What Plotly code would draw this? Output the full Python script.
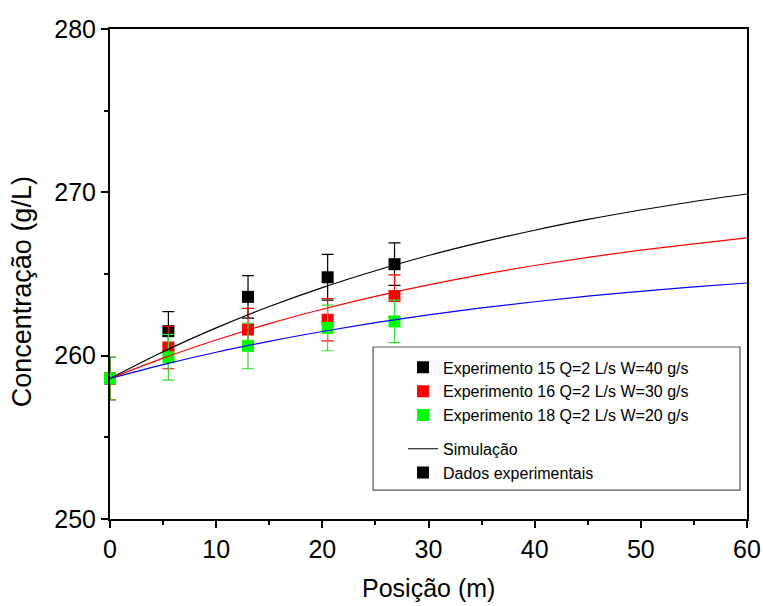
import plotly.graph_objects as go

# Dados experimentais (posição em m, concentração em g/L)
pos_exp = [0, 5.5, 13, 20.5, 26.8]

exp15 = [258.6, 261.5, 263.6, 264.8, 265.6]
exp15_err = [1.3, 1.2, 1.3, 1.4, 1.3]

exp16 = [258.6, 260.5, 261.6, 262.2, 263.65]
exp16_err = [1.3, 1.3, 1.3, 1.3, 1.3]

exp18 = [258.6, 259.9, 260.6, 261.7, 262.1]
exp18_err = [1.3, 1.4, 1.4, 1.4, 1.3]

# Curvas de simulação
pos_sim = [0, 5, 10, 15, 20, 25, 30, 35, 40, 45, 50, 55, 60]
sim15 = [258.6, 260.24, 261.70, 263.01, 264.17, 265.20, 266.13, 266.95, 267.68, 268.34, 268.92, 269.44, 269.90]
sim16 = [258.6, 259.85, 260.96, 261.96, 262.84, 263.63, 264.33, 264.96, 265.52, 266.02, 266.46, 266.85, 267.21]
sim18 = [258.6, 259.45, 260.21, 260.88, 261.48, 262.02, 262.50, 262.92, 263.30, 263.64, 263.94, 264.21, 264.45]

nomes = [
    "Experimento 15 Q=2 L/s W=40 g/s",
    "Experimento 16 Q=2 L/s W=30 g/s",
    "Experimento 18 Q=2 L/s W=20 g/s",
]

FONTE = "Liberation Sans, Arial, sans-serif"

fig = go.Figure()

# Pontos experimentais com barras de erro (o verde fica por cima)
series = [
    (exp15, exp15_err, "#000000", "#000000", nomes[0]),
    (exp16, exp16_err, "#FF0000", "#FF0000", nomes[1]),
    (exp18, exp18_err, "#00FF00", "#33DD33", nomes[2]),
]
for y, err, cor, cor_err, nome in series:
    fig.add_trace(
        go.Scatter(
            x=pos_exp,
            y=y,
            mode="markers",
            name=nome,
            legendgroup="exp",
            marker=dict(symbol="square", size=12, color=cor),
            error_y=dict(type="data", array=err, color=cor_err, thickness=1.2, width=6),
            cliponaxis=False,
        )
    )

# Curvas de simulação
for y, cor in [(sim15, "black"), (sim16, "red"), (sim18, "blue")]:
    fig.add_trace(
        go.Scatter(
            x=pos_sim,
            y=y,
            mode="lines",
            line=dict(color=cor, width=1.2, shape="spline"),
            showlegend=False,
        )
    )

# Entradas extras da legenda
fig.add_trace(
    go.Scatter(
        x=[None], y=[None], mode="lines", name="Simulação",
        legendgroup="extra", line=dict(color="black", width=1.2),
    )
)
fig.add_trace(
    go.Scatter(
        x=[None], y=[None], mode="markers", name="Dados experimentais",
        legendgroup="extra", marker=dict(symbol="square", size=12, color="black"),
    )
)

eixo = dict(
    showline=True,
    linecolor="black",
    linewidth=2,
    mirror=True,
    ticks="outside",
    ticklen=7,
    tickwidth=1.5,
    tickcolor="black",
    showgrid=False,
    zeroline=False,
    automargin=False,
    tickfont=dict(family=FONTE, size=25, color="black"),
    minor=dict(ticks="outside", ticklen=4, tickwidth=1.5, tickcolor="black", dtick=5),
)

fig.update_xaxes(**eixo, range=[0, 60], dtick=10)
fig.update_yaxes(**eixo, range=[250, 280], dtick=10)

# Títulos dos eixos
fig.add_annotation(
    text="Posição (m)",
    xref="paper", yref="paper", x=0.5, y=-0.141,
    xanchor="center", yanchor="middle", showarrow=False,
    font=dict(family=FONTE, size=25, color="black"),
)
fig.add_annotation(
    text="Concentração (g/L)", textangle=-90,
    xref="paper", yref="paper", x=-0.138, y=0.463,
    xanchor="center", yanchor="middle", showarrow=False,
    font=dict(family=FONTE, size=27, color="black"),
)

# Moldura da legenda
fig.add_shape(
    type="rect", xref="paper", yref="paper",
    x0=0.413, x1=0.989, y0=0.059, y1=0.351,
    line=dict(color="#555555", width=1.2), fillcolor="white", layer="below",
)

fig.update_layout(
    width=763,
    height=606,
    margin=dict(l=110, r=16, t=29, b=87),
    plot_bgcolor="white",
    paper_bgcolor="white",
    showlegend=True,
    legend=dict(
        x=0.46,
        y=0.344,
        xanchor="left",
        yanchor="top",
        borderwidth=0,
        bgcolor="rgba(0,0,0,0)",
        traceorder="grouped",
        tracegroupgap=10,
        font=dict(family=FONTE, size=16, color="black"),
    ),
)

# Tira a margem padrão do body e a barra de ferramentas
fig.write_html(
    "out.html",
    config={"displayModeBar": False},
    post_script="document.body.style.margin = '0px';",
)
